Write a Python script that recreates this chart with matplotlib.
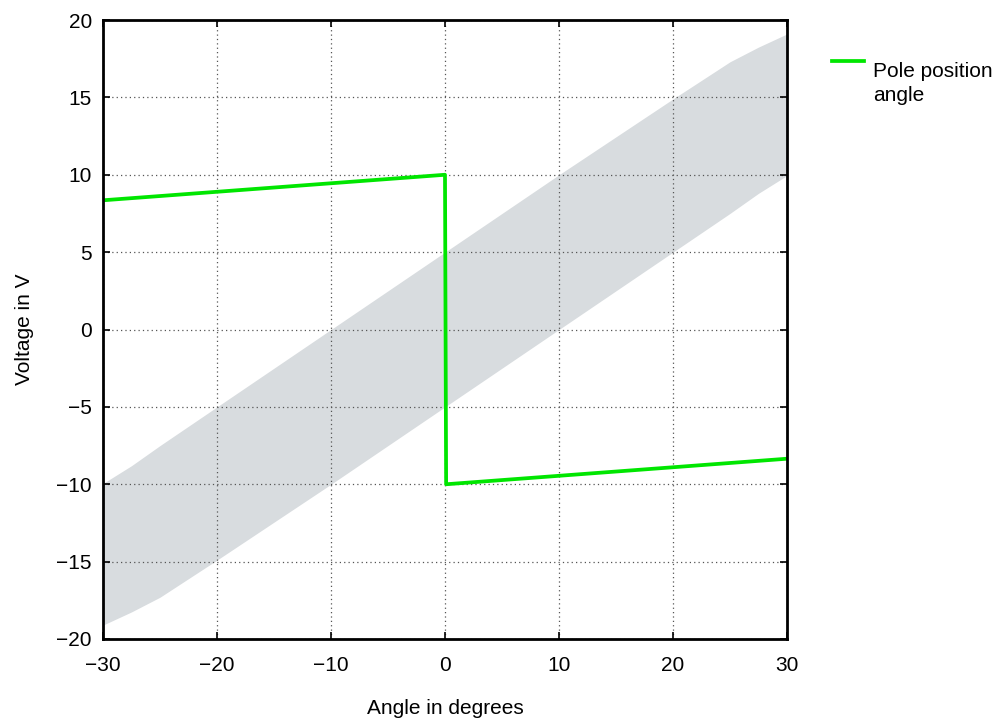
import numpy as np
import matplotlib.pyplot as plt
from matplotlib.lines import Line2D

plt.rcParams['font.family'] = ['Liberation Sans', 'DejaVu Sans']

# gray tolerance band (edges)
band_x = [-30, -27.5, -25, -22.5, -20, -10, 0, 10, 20, 22.5, 25, 27.5, 30]
band_upper = [-9.95, -8.8, -7.5, -6.25, -5, 0, 5, 10, 14.9, 16.1, 17.3, 18.25, 19.1]
band_lower = [-19.1, -18.25, -17.3, -16.1, -14.9, -10, -5, 0, 5, 6.25, 7.5, 8.8, 9.95]

# pole position angle curve
pole_x = [-30, 0, 0.1, 30]
pole_y = [8.35, 10, -10, -8.35]

fig = plt.figure(figsize=(10.02, 7.2), dpi=100)
ax = fig.add_axes([0.1028, 0.1125, 0.6826, 0.8597])

ax.fill_between(band_x, band_lower, band_upper, color='#d8dcdf', linewidth=0, zorder=1)
ax.plot(pole_x, pole_y, color='#00e600', linewidth=2.7, zorder=3)

ax.set_xlim(-30, 30)
ax.set_ylim(-20, 20)
ax.set_xticks(np.arange(-30, 31, 10))
ax.set_yticks(np.arange(-20, 21, 5))
ax.set_xticklabels(['\u221230', '\u221220', '\u221210', '0', '10', '20', '30'])
ax.set_yticklabels(['\u221220', '\u221215', '\u221210', '\u22125', '0', '5', '10', '15', '20'])
ax.grid(True, linestyle=(0, (1, 2.5)), color='#555555', linewidth=0.9, zorder=2)
ax.set_axisbelow(False)
ax.tick_params(direction='in', length=5, width=1.2, labelsize=15,
               top=True, right=True)
ax.tick_params(axis='x', pad=12)
ax.tick_params(axis='y', pad=8)
for s in ax.spines.values():
    s.set_linewidth(2)
    s.set_zorder(4)

ax.set_xlabel('Angle in degrees', fontsize=15)
ax.set_ylabel('Voltage in V', fontsize=15)
ax.xaxis.set_label_coords(0.5, -0.097)
ax.yaxis.set_label_coords(-0.101, 0.5)

# legend, drawn by hand so the line sits at the first text row
fig.add_artist(Line2D([0.8303, 0.8623], [0.9153, 0.9153], color='#00e600',
                      linewidth=2.7, transform=fig.transFigure))
fig.text(0.8713, 0.9135, 'Pole position\nangle', fontsize=15, va='top', ha='left',
         linespacing=1.3)

fig.savefig('out.png', dpi=100)
